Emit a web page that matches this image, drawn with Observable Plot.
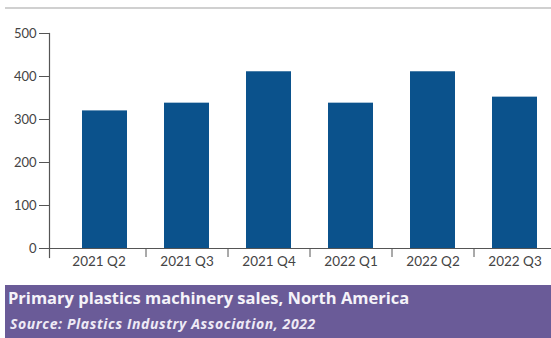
<!DOCTYPE html>
<html><head><meta charset="utf-8">
<script src="https://cdn.jsdelivr.net/npm/d3@7"></script>
<script src="https://cdn.jsdelivr.net/npm/@observablehq/plot@0.6"></script>
<style>
html,body{margin:0;padding:0;background:#fff}
body{width:551px;height:338px;overflow:hidden;position:relative;font-family:Lato,sans-serif}
#topline{position:absolute;left:5px;right:0;top:7px;height:0;border-top:2px solid #d0d0d0}
#chart{position:absolute;left:0;top:0}
#cap{position:absolute;left:5px;right:0;top:285px;height:53px;background:#6a5b98;font-family:"Open Sans",sans-serif}
#cap .t{position:absolute;left:3px;top:4px;font-weight:700;font-size:16.5px;line-height:17px;color:#f5f3f9;white-space:nowrap;letter-spacing:0}
#cap .s{position:absolute;left:5px;top:32px;font-weight:700;font-style:italic;font-size:14px;line-height:14px;color:#eeeaf6;white-space:nowrap;letter-spacing:0.6px}
</style>
</head><body>
<div id="topline"></div>
<div id="chart"></div>
<div id="cap"><div class="t">Primary plastics machinery sales, North America</div><div class="s">Source: Plastics Industry Association, 2022</div></div>
<script>
const categories = ["2021 Q2","2021 Q3","2021 Q4","2022 Q1","2022 Q2","2022 Q3"];
const sales = [320, 338, 411, 338, 411, 352];
const yTicks = [0, 100, 200, 300, 400, 500];

const data = categories.map((c, i) => ({quarter: c, sales: sales[i]}));

const chart = Plot.plot({
  width: 551,
  height: 285,
  marginTop: 33,
  marginBottom: 37,
  marginLeft: 49,
  marginRight: 0,
  style: {fontFamily: "Lato, sans-serif", background: "transparent", overflow: "visible"},
  x: {domain: categories, range: [64, 556], paddingInner: 0.45, paddingOuter: 0.225},
  y: {domain: [0, 500]},
  marks: [
    Plot.barY(data, {x: "quarter", y: "sales", fill: "#0b528c"}),
    Plot.ruleY([0], {stroke: "#555", strokeWidth: 1.2}),
    Plot.frame({anchor: "left", insetBottom: -9, stroke: "#555", strokeWidth: 1.2}),
    Plot.axisY(yTicks, {tickSize: 10, tickPadding: 3, fontSize: 13, fill: "#444", stroke: "#555", label: null}),
    Plot.axisX(categories.slice(1), {tickSize: 9, text: null, dx: -41, stroke: "#555", label: null}),
    Plot.axisX(categories.slice(1), {tickSize: 0, tickPadding: 8, fontSize: 13.5, fill: "#444", label: null}),
    Plot.axisX(categories.slice(0, 1), {tickSize: 0, tickPadding: 8, dx: -6, fontSize: 13.5, fill: "#444", label: null})
  ]
});
document.getElementById("chart").appendChild(chart);
</script>
</body></html>
